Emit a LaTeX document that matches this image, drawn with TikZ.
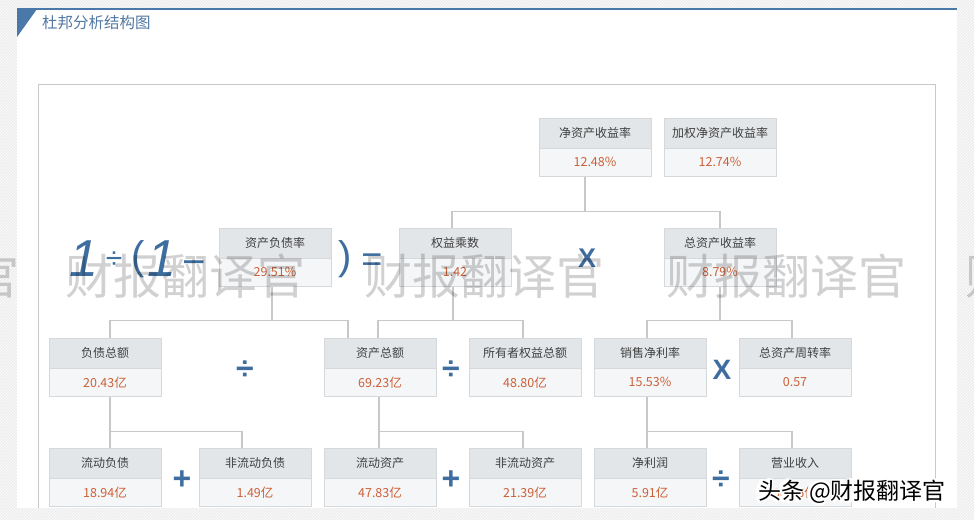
\documentclass[tikz,border=0pt]{standalone}
\usepackage{fontspec}
\setmainfont{Liberation Sans}
\newfontfamily\cjk{Noto Sans CJK SC}
\usetikzlibrary{positioning,patterns}
\definecolor{opblue}{HTML}{3E6E9F}
\definecolor{titleblue}{HTML}{4A78A8}
\definecolor{headfill}{HTML}{E3E6E9}
\definecolor{valfill}{HTML}{F5F6F7}
\definecolor{boxline}{HTML}{D6D9DC}
\definecolor{linkgray}{HTML}{C8C8C8}
\definecolor{labeltxt}{HTML}{404040}
\definecolor{valtxt}{HTML}{CC6038}
\newcommand\kpi[5]{%
  \node[head] (#1) at (#2,#3) {#4};
  \node[val, below=0pt of #1] (#1-v) {#5};}

\begin{document}
\begin{tikzpicture}[x=1pt,y=-1pt,
    head/.style={draw=boxline,fill=headfill,minimum width=112pt,minimum height=30pt,inner sep=0pt,
      font=\cjk\fontsize{12}{14}\selectfont,text=labeltxt},
    val/.style={draw=boxline,fill=valfill,minimum width=112pt,minimum height=28pt,inner sep=0pt,
      font=\cjk\fontsize{12.5}{14}\selectfont,text=valtxt},
    link/.style={draw=linkgray,line width=1.6pt},
    op/.style={text=opblue,inner sep=0pt,font=\bfseries\fontsize{32}{32}\selectfont},
    wmark/.style={text=black,opacity=0.18,inner sep=0pt,font=\cjk\fontsize{48}{50}\selectfont}]
  \useasboundingbox (0,0) rectangle (974,520);
  \clip (0,0) rectangle (974,520);
  % page background and card
  \fill[black!7] (0,0) rectangle (974,520);
  \fill[pattern=north east lines,pattern color=white] (0,0) rectangle (974,520);
  \fill[white] (17,9) rectangle (957,508);
  \draw[titleblue,line width=2.5pt] (17,9) -- (957,9);
  \fill[titleblue] (17,9) -- (37,9) -- (17,37) -- cycle;
  \node[anchor=west,inner sep=0pt,text=titleblue!85!gray,font=\cjk\fontsize{15.5}{17}\selectfont] (title) at (42,23) {杜邦分析结构图};
  \draw[linkgray,line width=1pt] (38,508) |- (935,84) -- (935,508);

  % boxes
  \kpi{roe}{595}{133}{净资产收益率}{12.48\%}
  \kpi{wroe}{720}{133}{加权净资产收益率}{12.74\%}
  \kpi{dar}{275}{243}{资产负债率}{29.51\%}
  \kpi{em}{455}{243}{权益乘数}{1.42}
  \kpi{roa}{720}{243}{总资产收益率}{8.79\%}
  \kpi{debt}{105}{353}{负债总额}{20.43亿}
  \kpi{asset}{380}{353}{资产总额}{69.23亿}
  \kpi{equity}{525}{353}{所有者权益总额}{48.80亿}
  \kpi{npm}{650}{353}{销售净利率}{15.53\%}
  \kpi{tat}{795}{353}{总资产周转率}{0.57}
  \kpi{cl}{105}{463}{流动负债}{18.94亿}
  \kpi{ncl}{255}{463}{非流动负债}{1.49亿}
  \kpi{ca}{380}{463}{流动资产}{47.83亿}
  \kpi{nca}{525}{463}{非流动资产}{21.39亿}
  \kpi{np}{650}{463}{净利润}{5.91亿}
  \kpi{rev}{795}{463}{营业收入}{38.06亿}

  % connectors
  \draw[link] ([xshift=-10pt]roe-v.south) -- ++(0,35) coordinate (j1);
  \draw[link] ([xshift=-3pt]em.north) |- (j1) -| (roa.north);
  \draw[link] ([xshift=-3pt]dar-v.south) -- ++(0,34) coordinate (j2);
  \draw[link] ([xshift=5pt]debt.north) |- (j2) -| ([xshift=-32pt]asset.north);
  \draw[link] ([xshift=-2pt]em-v.south) -- ++(0,34) coordinate (j3);
  \draw[link] ([xshift=-2pt]asset.north) |- (j3) -| ([xshift=-2pt]equity.north);
  \draw[link] (roa-v.south) -- ++(0,34) coordinate (j4);
  \draw[link] ([xshift=-3pt]npm.north) |- (j4) -| ([xshift=-3pt]tat.north);
  \draw[link] ([xshift=5pt]debt-v.south) -- ([xshift=5pt]cl.north);
  \draw[link] ([xshift=5pt]debt-v.south) ++(0,35) -| ([xshift=-13pt]ncl.north);
  \draw[link] ([xshift=-1pt]asset-v.south) -- ([xshift=-1pt]ca.north);
  \draw[link] ([xshift=-1pt]asset-v.south) ++(0,35) -| ([xshift=-2pt]nca.north);
  \draw[link] ([xshift=-3pt]npm-v.south) -- ([xshift=-3pt]np.north);
  \draw[link] ([xshift=-3pt]npm-v.south) ++(0,35) -| ([xshift=-3pt]rev.north);

  % operators
  \node[op,font=\fontsize{52}{52}\selectfont\itshape] (f1) at (84,259) {1};
  \node[op,font=\fontsize{30}{30}\selectfont] (fdiv) at (114,260) {÷};
  \node[op,font=\fontsize{40}{40}\selectfont] (fpar) at (138,259) {(};
  \node[op,font=\fontsize{52}{52}\selectfont\itshape] (f2) at (162,259) {1};
  \node[op,font=\fontsize{40}{40}\selectfont] (fminus) at (194,268) {−};
  \node[op,font=\fontsize{40}{40}\selectfont] (fclose) at (345,259) {)};
  \node[op,font=\fontsize{36}{36}\selectfont] (feq) at (372,263) {=};
  \node[op,font=\bfseries\fontsize{27}{27}\selectfont] (x1) at (587,258) {X};
  \node[op] (d1) at (245,370) {÷};
  \node[op] (d2) at (451,370) {÷};
  \node[op,font=\bfseries\fontsize{28}{28}\selectfont] (x2) at (722,370) {X};
  \node[op] (p1) at (182,480) {+};
  \node[op] (p2) at (451,480) {+};
  \node[op] (d3) at (721,480) {÷};

  % watermark
  \foreach \x [count=\i] in {-100,185,484,786,1085}
    \node[wmark] (wm\i) at (\x,276) {财报翻译官};
  \foreach \dx/\dy in {-1.5/0,1.5/0,0/-1.5,0/1.5,-1.2/-1.2,1.2/1.2,-1.2/1.2,1.2/-1.2}
    \node[inner sep=0pt,text=white,font=\cjk\bfseries\fontsize{23}{25}\selectfont] at (852+\dx,492+\dy) {头条 @财报翻译官};
  \node[inner sep=0pt,text=black,font=\cjk\fontsize{23}{25}\selectfont] (badge) at (852,492) {头条 @财报翻译官};
\end{tikzpicture}
\end{document}
